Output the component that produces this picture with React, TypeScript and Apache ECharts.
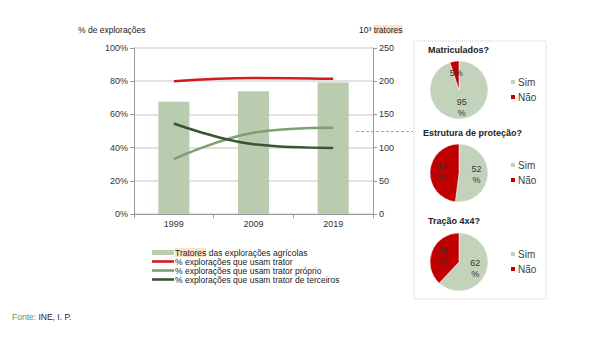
import React, { useEffect, useRef } from "react";
import * as echarts from "echarts";

const years = ["1999", "2009", "2019"];
const tractorsThousands = [169, 185, 198];
const pctUseTractor = [80, 82, 81.5];
const pctOwnTractor = [33, 49, 52];
const pctThirdParty = [54.5, 42, 39.8];
const leftTicks = [0, 20, 40, 60, 80, 100];
const rightTicks = [0, 50, 100, 150, 200, 250];
const pieNames = ["Sim", "Não"];
const pieMatriculados = [95, 5];
const pieEstrutura = [52, 48];
const pieTracao = [62, 38];

const FONT = "Liberation Sans, Arial, sans-serif";
const C_BAR = "#b9ccb0";
const C_RED = "#d01c1c";
const C_OWN = "#7ca06e";
const C_DARK = "#3b5434";
const C_PIE_SIM = "#c3d3bb";
const C_PIE_NAO = "#c00000";
const HL = "#fde3c6";

const barName = "Tratores das explorações agrícolas";
const redName = "% explorações que usam trator";
const ownName = "% explorações que usam trator próprio";
const darkName = "% explorações que usam trator de terceiros";

const LINE_ICON = "path://M0,0 H22 V2.6 H0 Z";

function pieSeries(values: number[], cy: number) {
  return {
    type: "pie",
    center: [459, cy],
    radius: 29,
    startAngle: 90,
    clockwise: true,
    data: pieNames.map((n, i) => ({
      name: n,
      value: values[i],
      itemStyle: { color: i === 0 ? C_PIE_SIM : C_PIE_NAO },
    })),
    itemStyle: { borderColor: "#ffffff", borderWidth: 0.5 },
    label: {
      position: "inside",
      fontFamily: FONT,
      fontSize: 9,
      color: "#333",
      lineHeight: 11,
      formatter: (p: any) => (p.value < 10 ? `${p.value}%` : `${p.value}\n%`),
    },
    labelLine: { show: false },
    emphasis: { disabled: true },
  };
}

function pieLegend(top: number) {
  return {
    data: pieNames,
    orient: "vertical",
    left: 509,
    top,
    padding: 0,
    icon: "rect",
    itemWidth: 6,
    itemHeight: 6,
    itemGap: 3,
    textStyle: { fontFamily: FONT, fontSize: 10, color: "#404040", lineHeight: 12, padding: [0, 0, 0, -3] },
    selectedMode: false,
  };
}

export default function App() {
  const ref = useRef<HTMLDivElement>(null);
  useEffect(() => {
    const chart = echarts.init(ref.current!, null, { renderer: "svg" });
    const option: any = {
      animation: false,
      backgroundColor: "#ffffff",
      textStyle: { fontFamily: FONT },
      grid: { left: 134, right: 221, top: 48, bottom: 132 },
      xAxis: {
        type: "category",
        data: years,
        axisLine: { lineStyle: { color: "#9a9a9a" } },
        axisTick: { show: true, length: 4, lineStyle: { color: "#9a9a9a" } },
        axisLabel: { fontFamily: FONT, fontSize: 9, color: "#333", margin: 5 },
      },
      yAxis: [
        {
          type: "value",
          min: 0,
          max: 100,
          interval: 20,
          axisLine: { show: true, lineStyle: { color: "#9a9a9a" } },
          axisTick: { show: true, length: 4, lineStyle: { color: "#9a9a9a" } },
          axisLabel: { fontFamily: FONT, fontSize: 9, color: "#333", margin: 6, formatter: (v: number) => (leftTicks.includes(v) ? `${v}%` : "") },
          splitLine: { lineStyle: { color: "#d9d9d9", width: 1.5 } },
        },
        {
          type: "value",
          min: 0,
          max: 250,
          interval: 50,
          position: "right",
          axisLine: { show: true, lineStyle: { color: "#9a9a9a" } },
          axisTick: { show: true, length: 4, lineStyle: { color: "#9a9a9a" } },
          axisLabel: { fontFamily: FONT, fontSize: 9, color: "#333", margin: 6, formatter: (v: number) => (rightTicks.includes(v) ? `${v}` : "") },
          splitLine: { show: false },
        },
      ],
      legend: [
        {
          data: [
            { name: barName, icon: "rect" },
            { name: redName, icon: LINE_ICON },
            { name: ownName, icon: LINE_ICON },
            { name: darkName, icon: LINE_ICON },
          ],
          orient: "vertical",
          left: 152,
          top: 248,
          padding: 0,
          itemWidth: 22,
          itemHeight: 5,
          itemGap: 0,
          selectedMode: false,
          formatter: (n: string) => (n === barName ? "{hl|Tratores} das explorações agrícolas" : n),
          textStyle: {
            fontFamily: FONT,
            fontSize: 8.5,
            lineHeight: 9,
            color: "#222",
            padding: [0, 0, 0, -4],
            rich: { hl: { backgroundColor: HL, fontFamily: FONT, fontSize: 8.5, lineHeight: 9, color: "#222" } },
          },
        },
        pieLegend(76),
        pieLegend(159),
        pieLegend(248),
      ],
      series: [
        {
          name: barName,
          type: "bar",
          yAxisIndex: 1,
          data: tractorsThousands,
          barWidth: "39%",
          itemStyle: { color: C_BAR },
          emphasis: { disabled: true },
        },
        {
          name: redName,
          type: "line",
          data: pctUseTractor,
          smooth: 0.4,
          symbol: "none",
          lineStyle: { color: C_RED, width: 2.5 },
          itemStyle: { color: C_RED },
        },
        {
          name: ownName,
          type: "line",
          data: pctOwnTractor,
          smooth: 0.4,
          symbol: "none",
          lineStyle: { color: C_OWN, width: 2.5 },
          itemStyle: { color: C_OWN },
        },
        {
          name: darkName,
          type: "line",
          data: pctThirdParty,
          smooth: 0.4,
          symbol: "none",
          lineStyle: { color: C_DARK, width: 2.5 },
          itemStyle: { color: C_DARK },
        },
        pieSeries(pieMatriculados, 90),
        pieSeries(pieEstrutura, 173),
        pieSeries(pieTracao, 262),
      ],
      graphic: [
        { type: "text", left: 78, top: 25, style: { text: "% de explorações", fontFamily: FONT, fontSize: 8.5, fill: "#222" } },
        {
          type: "text",
          left: 359,
          top: 25,
          style: {
            text: "10³ {hl|tratores}",
            fontFamily: FONT,
            fontSize: 8.5,
            fill: "#222",
            rich: { hl: { backgroundColor: HL, fontFamily: FONT, fontSize: 8.5, fill: "#222" } },
          },
        },
        {
          type: "rect",
          shape: { x: 414, y: 41, width: 132, height: 258 },
          style: { fill: "none", stroke: "#cfcfcf", lineWidth: 1, lineDash: [1, 1] },
          z: 0,
        },
        {
          type: "line",
          shape: { x1: 356, y1: 131.5, x2: 413, y2: 131.5 },
          style: { stroke: "#a6a6a6", lineWidth: 1.2, lineDash: [3, 2] },
        },
        { type: "text", left: 428, top: 45, style: { text: "Matriculados?", fontFamily: FONT, fontSize: 9, fontWeight: "bold", fill: "#222" } },
        { type: "text", left: 423, top: 128, style: { text: "Estrutura de proteção?", fontFamily: FONT, fontSize: 9, fontWeight: "bold", fill: "#222" } },
        { type: "text", left: 428, top: 216, style: { text: "Tração 4x4?", fontFamily: FONT, fontSize: 9, fontWeight: "bold", fill: "#222" } },
        {
          type: "text",
          left: 12,
          top: 312,
          style: {
            text: "{g|Fonte:} INE, I. P.",
            fontFamily: FONT,
            fontSize: 8.5,
            fill: "#222",
            rich: { g: { fill: "#5e9a4a", fontFamily: FONT, fontSize: 8.5 } },
          },
        },
      ],
    };
    chart.setOption(option);
    return () => chart.dispose();
  }, []);
  return <div ref={ref} style={{ position: "fixed", left: 0, top: 0, width: 594, height: 346 }} />;
}
